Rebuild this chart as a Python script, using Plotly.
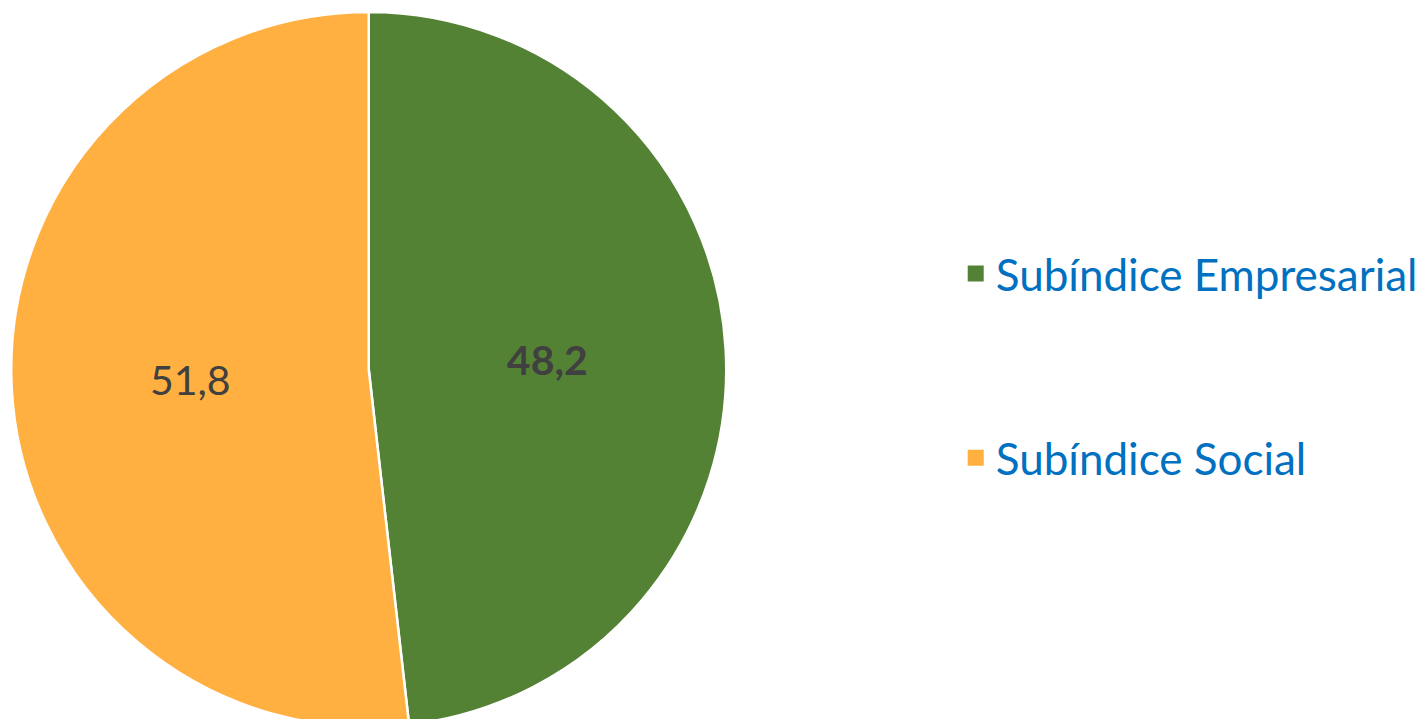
import plotly.graph_objects as go

# data
categories = ["Subíndice Empresarial", "Subíndice Social"]
values = [48.2, 51.8]
colors = ["#548235", "#FFB040"]
label_templates = ["<b>%{value:.1f}</b>", "%{value:.1f}"]

FONT = "Lato"

fig = go.Figure()

fig.add_trace(go.Pie(
    labels=categories,
    values=values,
    sort=False,
    direction="clockwise",
    rotation=0,
    marker=dict(colors=colors, line=dict(color="white", width=2.5)),
    texttemplate=label_templates,
    textposition="inside",
    insidetextorientation="horizontal",
    textfont=dict(family=FONT, size=41, color="#404040"),
    domain=dict(x=[0, 0.507], y=[0, 1]),
    showlegend=False,
    hoverinfo="label+value",
))

# legend entries (square markers, spaced like the original)
for name, col in zip(categories, colors):
    fig.add_trace(go.Scatter(
        x=[None], y=[None],
        mode="markers",
        name=name,
        legendgroup=name,
        marker=dict(symbol="square", size=16, color=col),
        showlegend=True,
    ))

fig.update_layout(
    width=1423,
    height=719,
    margin=dict(l=0, r=0, t=4, b=0),
    paper_bgcolor="white",
    plot_bgcolor="white",
    separators=",.",
    xaxis=dict(visible=False),
    yaxis=dict(visible=False),
    legend=dict(
        x=0.666, y=0.505,
        xanchor="left", yanchor="middle",
        font=dict(family=FONT, size=44, color="#0070C0"),
        tracegroupgap=124,
        bgcolor="rgba(0,0,0,0)",
    ),
)

fig.write_html("out.html")
